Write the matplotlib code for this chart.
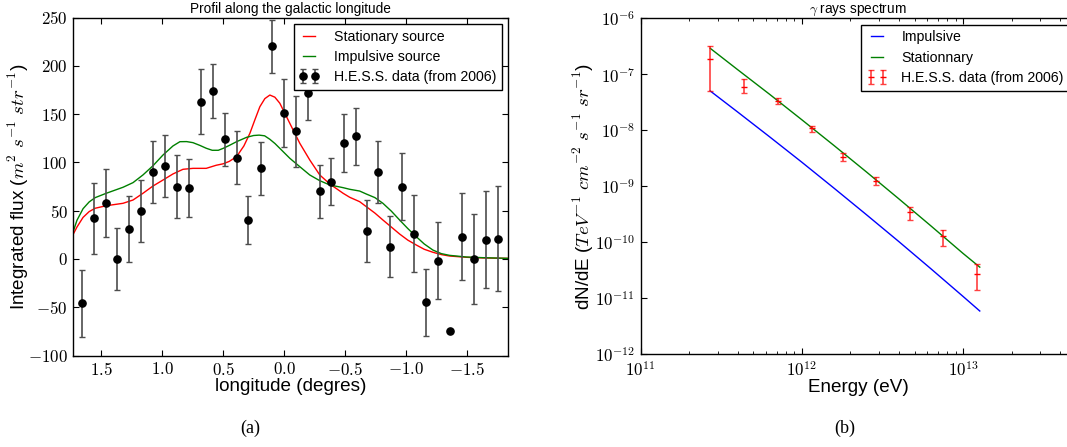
import matplotlib
matplotlib.use("Agg")
import matplotlib.pyplot as plt
import matplotlib.ticker as mticker
import numpy as np

plt.rcParams['font.family'] = ['Liberation Sans', 'DejaVu Sans']
plt.rcParams['mathtext.fontset'] = 'cm'

# --- (a) profile along the galactic longitude ---
lon = [1.656, 1.560, 1.464, 1.369, 1.270, 1.172, 1.076, 0.978, 0.880, 0.784,
       0.683, 0.587, 0.489, 0.390, 0.295, 0.193, 0.098, 0.0, -0.096, -0.194,
       -0.293, -0.388, -0.489, -0.588, -0.683, -0.774, -0.872, -0.970, -1.069, -1.167,
       -1.266, -1.364, -1.462, -1.557, -1.659, -1.754]
flux = [-46, 42, 58, 0, 31, 50, 90, 96.5, 75, 73,
        163, 174, 124, 105, 40, 94, 220, 151, 132, 172,
        70, 80, 120, 127, 29, 90, 12.5, 75, 26, -45,
        -2, -75, 23, 0, 20, 21]
flux_err = [35, 37, 35, 32.5, 34.5, 32, 32, 32, 32.5, 30,
            34, 28, 27.5, 27.5, 25, 27.5, 27, 35, 37, 28,
            27.5, 24.5, 30, 29.5, 32, 32, 31.5, 34.5, 40, 35,
            40, 0, 45, 47, 50, 54.5]

stat_lon = [1.733, 1.70, 1.65, 1.60, 1.55, 1.459, 1.322, 1.240, 1.158, 1.076,
            0.994, 0.912, 0.830, 0.748, 0.639, 0.557, 0.5, 0.45, 0.39, 0.33,
            0.281, 0.24, 0.199, 0.158, 0.117, 0.076, 0.035, -0.047, -0.129, -0.211,
            -0.293, -0.375, -0.484, -0.539, -0.62, -0.675, -0.745, -0.811, -0.88, -0.948,
            -1.015, -1.085, -1.15, -1.221, -1.29, -1.358, -1.495, -1.631, -1.836]
stat_flux = [25, 33, 43, 49, 52.5, 55.1, 57.6, 61, 68, 75.5,
             81.7, 88, 92.8, 93.8, 93.8, 97, 98.5, 101, 105.9, 117,
             130, 144, 157.6, 166, 169.7, 167.5, 161.2, 140.4, 119.7, 102.4,
             86.9, 77.6, 68, 63.8, 59.3, 54.1, 47.5, 40.3, 33, 25.8,
             19.5, 14.4, 10, 6.9, 4.5, 3.0, 1.7, 1.0, 0.6]

imp_lon = [1.733, 1.70, 1.65, 1.60, 1.55, 1.459, 1.322, 1.240, 1.158, 1.076,
           0.994, 0.912, 0.855, 0.80, 0.748, 0.69, 0.639, 0.59, 0.54, 0.5,
           0.45, 0.39, 0.308, 0.25, 0.205, 0.16, 0.117, 0.075, 0.035, -0.047,
           -0.129, -0.211, -0.293, -0.375, -0.484, -0.539, -0.62, -0.675, -0.745, -0.811,
           -0.88, -0.948, -1.015, -1.085, -1.15, -1.221, -1.29, -1.358, -1.495, -1.631, -1.836]
imp_flux = [27.5, 40, 52, 59, 63.5, 68, 74.2, 79, 87, 96.5,
            107.6, 117, 121.4, 121.5, 120.4, 117.5, 114.6, 112.5, 112.5, 114.5,
            117.5, 121.4, 125.9, 127.8, 128.2, 127.5, 123.9, 119.5, 114.5, 104.2,
            95.5, 86.9, 81, 76.6, 73.8, 72.1, 70.3, 67.2, 63.5, 57.6,
            49.5, 40.3, 31.5, 23, 15.5, 9.2, 5.5, 3.7, 2, 1.3, 0.6]

# --- (b) gamma ray spectrum ---
energy = [2.7e11, 4.35e11, 7.06e11, 1.15e12, 1.81e12, 2.9e12, 4.67e12, 7.48e12, 1.22e13]
dnde = [1.86e-7, 5.9e-8, 3.33e-8, 1.11e-8, 3.38e-9, 1.26e-9, 3.44e-10, 1.29e-10, 2.72e-11]
dnde_hi = [3.2e-7, 8.2e-8, 3.8e-8, 1.21e-8, 3.9e-9, 1.48e-9, 4.3e-10, 1.66e-10, 4.1e-11]
dnde_lo = [5.1e-8, 4.7e-8, 2.9e-8, 9.4e-9, 2.86e-9, 1.04e-9, 2.5e-10, 8.6e-11, 1.4e-11]

model_e = [2.7e11, 3.98e11, 6.31e11, 1e12, 1.585e12, 2.512e12, 3.98e12, 6.31e12, 1e13, 1.27e13]
impulsive = [5.04e-8, 2.14e-8, 7.64e-9, 2.69e-9, 9.23e-10, 3.12e-10, 1.04e-10, 3.38e-11, 1.08e-11, 5.93e-12]
stationnary = [2.91e-7, 1.22e-7, 4.39e-8, 1.54e-8, 5.33e-9, 1.81e-9, 6.03e-10, 1.97e-10, 6.33e-11, 3.6e-11]

W, H = 1067, 447
fig = plt.figure(figsize=(W / 100, H / 100), dpi=100)
ax1 = fig.add_axes([73.3 / W, 1 - 355.5 / H, 435 / W, 338 / H])
ax2 = fig.add_axes([640.7 / W, 1 - 354.3 / H, 435 / W, 336 / H])

leg_kw = dict(loc='upper right', numpoints=2, fontsize=10.2, fancybox=False,
              framealpha=1, edgecolor='black', borderaxespad=0.45,
              handletextpad=1.0, handlelength=1.45, labelspacing=0.45)

# left panel
ax1.plot(stat_lon, stat_flux, color='r', lw=1, label='Stationary source')
ax1.plot(imp_lon, imp_flux, color='g', lw=1, label='Impulsive source')
ax1.errorbar(lon, flux, yerr=flux_err, fmt='o', color='k', ms=5.2,
             ecolor='0.3', elinewidth=1.2, capsize=2, label='H.E.S.S. data (from 2006)')
ax1.set_xlim(1.73, -1.84)
ax1.set_ylim(-100, 250)
ax1.set_xticks([1.5, 1.0, 0.5, 0.0, -0.5, -1.0, -1.5])
ax1.set_yticks(np.arange(-100, 251, 50))
ax1.xaxis.set_major_formatter(mticker.FuncFormatter(lambda v, p: r'$%.1f$' % v))
ax1.yaxis.set_major_formatter(mticker.FuncFormatter(lambda v, p: r'$%d$' % v))
ax1.set_title('Profil along the galactic longitude', fontsize=9.8, pad=3)
ax1.set_xlabel('longitude (degres)', fontsize=13.6, labelpad=0)
ax1.set_ylabel(r'Integrated flux ($m^2\ s^{-1}\ str^{-1}$)', fontsize=13.6, labelpad=-2.5)
ax1.legend(**leg_kw)

# right panel
ax2.plot(model_e, impulsive, color='b', lw=1, label='Impulsive')
ax2.plot(model_e, stationnary, color='g', lw=1, label='Stationnary')
yerr = [np.array(dnde) - np.array(dnde_lo), np.array(dnde_hi) - np.array(dnde)]
ax2.errorbar(energy, dnde, yerr=yerr, fmt='_', color='r', ms=4, ecolor=(1, 0, 0, 0.75),
             elinewidth=1.2, capsize=2, label='H.E.S.S. data (from 2006)')
ax2.set_xscale('log')
ax2.set_yscale('log')
ax2.set_xlim(1e11, 5e13)
ax2.set_ylim(1e-12, 1e-6)
ax2.xaxis.set_major_locator(mticker.LogLocator(base=10, numticks=10))
ax2.xaxis.set_minor_locator(mticker.LogLocator(base=10, subs=np.arange(2, 10), numticks=10))
ax2.yaxis.set_major_locator(mticker.LogLocator(base=10, numticks=10))
ax2.yaxis.set_minor_locator(mticker.NullLocator())
logfmt = mticker.FuncFormatter(lambda v, p: r'$10^{%d}$' % int(round(np.log10(v))))
ax2.xaxis.set_major_formatter(logfmt)
ax2.yaxis.set_major_formatter(logfmt)
ax2.xaxis.set_minor_formatter(mticker.NullFormatter())
ax2.set_title(r'$\gamma$ rays spectrum', fontsize=9.8, pad=3)
ax2.set_xlabel('Energy (eV)', fontsize=13.6, labelpad=0)
ax2.set_ylabel(r'dN/dE ($TeV^{-1}\ cm^{-2}\ s^{-1}\ sr^{-1}$)', fontsize=13.6, labelpad=-0.5)
ax2.legend(**leg_kw)

for ax in (ax1, ax2):
    ax.tick_params(which='both', direction='in', top=True, right=True, labelsize=12.2, pad=4)
    ax.tick_params(which='major', length=4)
    ax.tick_params(which='minor', length=2)
    for s in ax.spines.values():
        s.set_linewidth(1.0)

fig.text(250 / W, 1 - 428 / H, '(a)', family='Liberation Serif', fontsize=13, ha='center', va='center')
fig.text(845 / W, 1 - 428 / H, '(b)', family='Liberation Serif', fontsize=13, ha='center', va='center')

fig.savefig('out.png', dpi=100)
